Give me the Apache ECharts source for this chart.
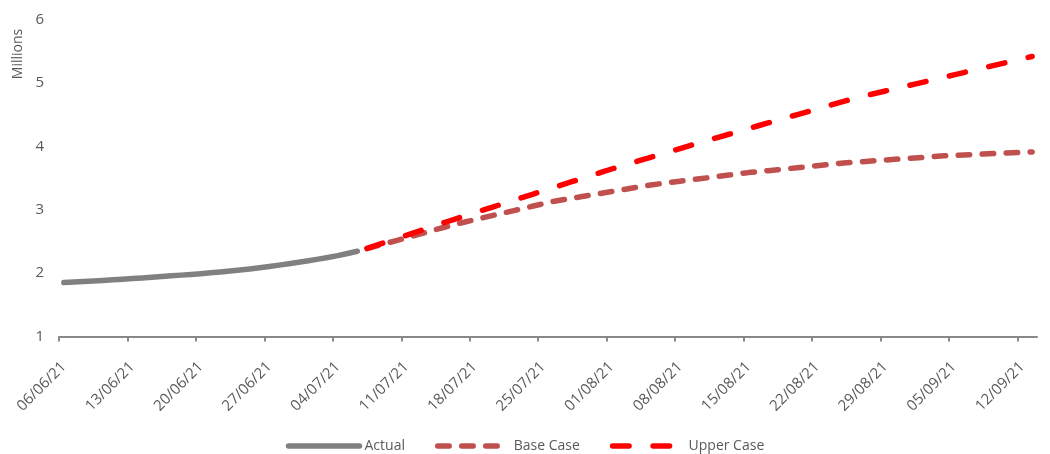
<!DOCTYPE html>
<html>
<head>
<meta charset="utf-8">
<script src="https://cdn.jsdelivr.net/npm/echarts@6/dist/echarts.min.js"></script>
<style>
  html, body { margin: 0; padding: 0; background: #ffffff; }
  #chart { width: 1050px; height: 454px; }
</style>
</head>
<body>
<div id="chart"></div>
<script>
// Daily categories from 06/06/21 to 13/09/21; a label every 7th day.
const startDate = new Date(2021, 5, 6);
const dayCount = 100;
const labelEvery = 7;

// Recorded totals (millions), 06/06/21 – 06/07/21
const actual = [
  1.850, 1.858, 1.867, 1.876, 1.885, 1.895, 1.904, 1.914, 1.924, 1.935,
  1.946, 1.957, 1.968, 1.979, 1.990, 2.004, 2.019, 2.034, 2.050, 2.066,
  2.085, 2.105, 2.126, 2.148, 2.170, 2.195, 2.220, 2.247, 2.275, 2.310,
  2.345
];

// Projections (millions), 07/07/21 – 13/09/21
const baseCase = [
  2.385, 2.428, 2.471, 2.513, 2.556, 2.599, 2.642, 2.685, 2.727, 2.770,
  2.806, 2.842, 2.878, 2.914, 2.950, 2.986, 3.022, 3.058, 3.094, 3.130,
  3.156, 3.182, 3.208, 3.234, 3.260, 3.286, 3.312, 3.338, 3.364, 3.390,
  3.410, 3.430, 3.450, 3.468, 3.488, 3.507, 3.527, 3.546, 3.566, 3.585,
  3.600, 3.616, 3.631, 3.647, 3.662, 3.678, 3.693, 3.709, 3.724, 3.740,
  3.751, 3.762, 3.773, 3.784, 3.795, 3.806, 3.817, 3.828, 3.839, 3.850,
  3.857, 3.864, 3.871, 3.878, 3.885, 3.892, 3.898, 3.905, 3.912
];

const upperCase = [
  2.390, 2.441, 2.493, 2.544, 2.596, 2.647, 2.699, 2.750, 2.802, 2.853,
  2.902, 2.952, 3.001, 3.050, 3.100, 3.149, 3.198, 3.247, 3.297, 3.346,
  3.395, 3.445, 3.494, 3.543, 3.593, 3.642, 3.689, 3.735, 3.781, 3.827,
  3.873, 3.919, 3.965, 4.011, 4.057, 4.102, 4.146, 4.190, 4.235, 4.279,
  4.324, 4.368, 4.413, 4.457, 4.500, 4.544, 4.588, 4.632, 4.676, 4.720,
  4.764, 4.800, 4.836, 4.873, 4.909, 4.945, 4.981, 5.017, 5.054, 5.090,
  5.126, 5.163, 5.199, 5.235, 5.272, 5.308, 5.345, 5.381, 5.417
];

const seriesNames = ['Actual', 'Base Case', 'Upper Case'];
const yTicks = { min: 1, max: 6, step: 1 };
const axisTitle = 'Millions';

function pad2(n) { return (n < 10 ? '0' : '') + n; }
function dayLabel(i) {
  const d = new Date(startDate.getFullYear(), startDate.getMonth(), startDate.getDate() + i);
  return pad2(d.getDate()) + '/' + pad2(d.getMonth() + 1) + '/' + pad2(d.getFullYear() % 100);
}
// One category per day (points sit mid-day) ...
const categories = [];
for (let i = 0; i < dayCount; i++) categories.push(dayLabel(i));
// ... and day boundaries for the tick marks.
const boundaries = [];
for (let i = 0; i <= dayCount; i++) boundaries.push(dayLabel(i));

// Place each series on the shared daily category axis.
function onAxis(values, offset) {
  const out = new Array(dayCount).fill(null);
  values.forEach((v, i) => { out[offset + i] = v; });
  return out;
}
const projectionStart = actual.length;

const textColor = '#595959';
const axisColor = '#898989';
const fontFamily = '"Open Sans", "Noto Sans", sans-serif';

const chart = echarts.init(document.getElementById('chart'), null, { renderer: 'canvas' });
chart.setOption({
  animation: false,
  backgroundColor: '#ffffff',
  textStyle: { fontFamily: fontFamily },
  grid: { left: 59, right: 13, top: 19.5, bottom: 117.5, containLabel: false },
  legend: {
    top: 434,
    left: 'center',
    itemWidth: 71,
    itemHeight: 14,
    itemGap: 30,
    itemStyle: { opacity: 0 },
    lineStyle: { width: 5.5, cap: 'round' },
    textStyle: { color: textColor, fontSize: 14, fontFamily: fontFamily },
    data: seriesNames
  },
  graphic: [{
    type: 'text',
    x: 18,
    y: 54,
    rotation: Math.PI / 2,
    style: {
      text: axisTitle,
      fill: textColor,
      font: '14px ' + fontFamily,
      textAlign: 'center',
      textVerticalAlign: 'middle'
    }
  }],
  xAxis: [
    {
      type: 'category',
      data: categories,
      boundaryGap: true,
      axisLine: { show: false },
      axisTick: { show: false },
      axisLabel: {
        interval: labelEvery - 1,
        rotate: 45,
        margin: 28,
        color: textColor,
        fontSize: 15,
        fontFamily: fontFamily
      },
      splitLine: { show: false }
    },
    {
      type: 'category',
      data: boundaries,
      boundaryGap: false,
      position: 'bottom',
      axisLine: { lineStyle: { color: axisColor, width: 2 } },
      axisTick: {
        show: true,
        interval: labelEvery - 1,
        length: 5,
        lineStyle: { color: axisColor, width: 2 }
      },
      axisLabel: { show: false },
      splitLine: { show: false }
    }
  ],
  yAxis: {
    type: 'value',
    min: yTicks.min,
    max: yTicks.max,
    interval: yTicks.step,
    axisLine: { show: false },
    axisTick: { show: false },
    splitLine: { show: false },
    axisLabel: { color: textColor, fontSize: 15, margin: 15, fontFamily: fontFamily }
  },
  series: [
    {
      name: seriesNames[0],
      type: 'line',
      xAxisIndex: 0,
      data: onAxis(actual, 0),
      symbol: 'none',
      color: '#808080',
      lineStyle: { color: '#808080', width: 5.5, cap: 'round', join: 'round' },
      z: 2
    },
    {
      name: seriesNames[1],
      type: 'line',
      xAxisIndex: 0,
      data: onAxis(baseCase, projectionStart),
      symbol: 'none',
      color: '#C0504D',
      lineStyle: { color: '#C0504D', width: 5.5, type: [11.5, 12.5], cap: 'round', join: 'round' },
      z: 3
    },
    {
      name: seriesNames[2],
      type: 'line',
      xAxisIndex: 0,
      data: onAxis(upperCase, projectionStart),
      symbol: 'none',
      color: '#FF0000',
      lineStyle: { color: '#FF0000', width: 5.5, type: [16.5, 24], cap: 'round', join: 'round' },
      z: 4
    }
  ]
});
</script>
</body>
</html>
